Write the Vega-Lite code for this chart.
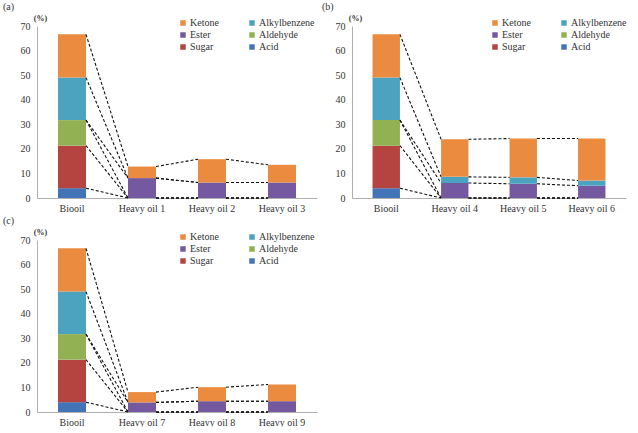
{
  "$schema": "https://vega.github.io/schema/vega-lite/v6.json",
  "padding": {"left": 3, "top": 2, "right": 0, "bottom": 0},
  "background": "white",
  "config": {
    "font": "Liberation Serif",
    "view": {"stroke": null},
    "axis": {"labelFont": "Liberation Serif", "labelFontSize": 10, "labelColor": "#333", "domainColor": "#b0b0b0", "grid": false, "ticks": false, "labelOverlap": false},
    "legend": {"labelFont": "Liberation Serif", "labelFontSize": 10, "labelColor": "#333"},
    "title": {"font": "Liberation Serif", "fontSize": 10, "fontWeight": "normal", "anchor": "start", "frame": "bounds", "color": "#333"}
  },
  "resolve": {"scale": {"color": "independent"}},
  "spacing": {"column": 5, "row": 3},
  "columns": 2,
  "concat": [
    {
      "width": 280, "height": 172,
      "title": {"text": "(a)", "dx": -17, "offset": 2},
      "data": {"values": [
        {"sample": "Biooil", "component": "Acid", "value": 4},
        {"sample": "Biooil", "component": "Sugar", "value": 17.3},
        {"sample": "Biooil", "component": "Aldehyde", "value": 10.4},
        {"sample": "Biooil", "component": "Ester", "value": 0},
        {"sample": "Biooil", "component": "Alkylbenzene", "value": 17.3},
        {"sample": "Biooil", "component": "Ketone", "value": 17.6},
        {"sample": "Heavy oil 1", "component": "Acid", "value": 0},
        {"sample": "Heavy oil 1", "component": "Sugar", "value": 0},
        {"sample": "Heavy oil 1", "component": "Aldehyde", "value": 0},
        {"sample": "Heavy oil 1", "component": "Ester", "value": 8.1},
        {"sample": "Heavy oil 1", "component": "Alkylbenzene", "value": 0},
        {"sample": "Heavy oil 1", "component": "Ketone", "value": 4.7},
        {"sample": "Heavy oil 2", "component": "Acid", "value": 0},
        {"sample": "Heavy oil 2", "component": "Sugar", "value": 0},
        {"sample": "Heavy oil 2", "component": "Aldehyde", "value": 0},
        {"sample": "Heavy oil 2", "component": "Ester", "value": 6.3},
        {"sample": "Heavy oil 2", "component": "Alkylbenzene", "value": 0},
        {"sample": "Heavy oil 2", "component": "Ketone", "value": 9.5},
        {"sample": "Heavy oil 3", "component": "Acid", "value": 0},
        {"sample": "Heavy oil 3", "component": "Sugar", "value": 0},
        {"sample": "Heavy oil 3", "component": "Aldehyde", "value": 0},
        {"sample": "Heavy oil 3", "component": "Ester", "value": 6.3},
        {"sample": "Heavy oil 3", "component": "Alkylbenzene", "value": 0},
        {"sample": "Heavy oil 3", "component": "Ketone", "value": 7.2}
      ]},
      "transform": [
        {"calculate": "indexof(['Acid','Sugar','Aldehyde','Ester','Alkylbenzene','Ketone'], datum.component)", "as": "rank"},
        {"stack": "value", "groupby": ["sample"], "sort": [{"field": "rank", "order": "ascending"}], "as": ["lo", "hi"]},
        {"window": [{"op": "lead", "field": "hi", "as": "nextHi"}, {"op": "lead", "field": "sample", "as": "nextSample"}], "groupby": ["component"], "sort": [{"field": "sample", "order": "ascending"}], "frame": [null, null]}
      ],
      "layer": [
        {
          "mark": {"type": "bar"},
          "encoding": {
            "x": {"field": "sample", "type": "nominal", "scale": {"paddingInner": 0.6, "paddingOuter": 0.3}, "axis": {"title": null, "labelAngle": 0, "labelPadding": 5}},
            "y": {"field": "lo", "type": "quantitative", "scale": {"domain": [0, 70]}, "axis": {"title": "(%)", "titleAngle": 0, "titleX": 3, "titleY": -4, "titleAlign": "center", "titleBaseline": "bottom", "titleFontSize": 8, "titleFontWeight": "bold", "titleColor": "#333", "values": [0, 10, 20, 30, 40, 50, 60, 70], "labelPadding": 7}},
            "y2": {"field": "hi"},
            "color": {"field": "component", "type": "nominal",
              "scale": {"domain": ["Ketone", "Ester", "Sugar", "Alkylbenzene", "Aldehyde", "Acid"], "range": ["#EA8B3F", "#7459A0", "#B5433F", "#4BA3C0", "#92B152", "#4374B8"]},
              "legend": {"title": null, "orient": "none", "legendX": 141, "legendY": -8, "columns": 2, "columnPadding": 28, "rowPadding": 2, "symbolType": "square", "symbolSize": 30, "labelOffset": 2}}
          }
        },
        {
          "transform": [{"filter": "datum.nextSample != null"}],
          "mark": {"type": "rule", "color": "#111", "strokeDash": [3, 2], "strokeWidth": 1.1},
          "encoding": {
            "x": {"field": "sample", "type": "nominal", "bandPosition": 1},
            "x2": {"field": "nextSample", "bandPosition": 0},
            "y": {"field": "hi", "type": "quantitative", "axis": {"title": "(%)", "titleAngle": 0, "titleX": 3, "titleY": -4, "titleAlign": "center", "titleBaseline": "bottom", "titleFontSize": 8, "titleFontWeight": "bold", "titleColor": "#333", "values": [0, 10, 20, 30, 40, 50, 60, 70], "labelPadding": 7}},
            "y2": {"field": "nextHi"}
          }
        }
      ]
    },
    {
      "width": 274, "height": 172,
      "title": {"text": "(b)", "dx": -13, "offset": 2},
      "data": {"values": [
        {"sample": "Biooil", "component": "Acid", "value": 4},
        {"sample": "Biooil", "component": "Sugar", "value": 17.3},
        {"sample": "Biooil", "component": "Aldehyde", "value": 10.4},
        {"sample": "Biooil", "component": "Ester", "value": 0},
        {"sample": "Biooil", "component": "Alkylbenzene", "value": 17.3},
        {"sample": "Biooil", "component": "Ketone", "value": 17.6},
        {"sample": "Heavy oil 4", "component": "Acid", "value": 0},
        {"sample": "Heavy oil 4", "component": "Sugar", "value": 0},
        {"sample": "Heavy oil 4", "component": "Aldehyde", "value": 0},
        {"sample": "Heavy oil 4", "component": "Ester", "value": 6.1},
        {"sample": "Heavy oil 4", "component": "Alkylbenzene", "value": 2.5},
        {"sample": "Heavy oil 4", "component": "Ketone", "value": 15.3},
        {"sample": "Heavy oil 5", "component": "Acid", "value": 0},
        {"sample": "Heavy oil 5", "component": "Sugar", "value": 0},
        {"sample": "Heavy oil 5", "component": "Aldehyde", "value": 0},
        {"sample": "Heavy oil 5", "component": "Ester", "value": 5.8},
        {"sample": "Heavy oil 5", "component": "Alkylbenzene", "value": 2.6},
        {"sample": "Heavy oil 5", "component": "Ketone", "value": 15.8},
        {"sample": "Heavy oil 6", "component": "Acid", "value": 0},
        {"sample": "Heavy oil 6", "component": "Sugar", "value": 0},
        {"sample": "Heavy oil 6", "component": "Aldehyde", "value": 0},
        {"sample": "Heavy oil 6", "component": "Ester", "value": 5.0},
        {"sample": "Heavy oil 6", "component": "Alkylbenzene", "value": 2.1},
        {"sample": "Heavy oil 6", "component": "Ketone", "value": 17.1}
      ]},
      "transform": [
        {"calculate": "indexof(['Acid','Sugar','Aldehyde','Ester','Alkylbenzene','Ketone'], datum.component)", "as": "rank"},
        {"stack": "value", "groupby": ["sample"], "sort": [{"field": "rank", "order": "ascending"}], "as": ["lo", "hi"]},
        {"window": [{"op": "lead", "field": "hi", "as": "nextHi"}, {"op": "lead", "field": "sample", "as": "nextSample"}], "groupby": ["component"], "sort": [{"field": "sample", "order": "ascending"}], "frame": [null, null]}
      ],
      "layer": [
        {
          "mark": {"type": "bar"},
          "encoding": {
            "x": {"field": "sample", "type": "nominal", "scale": {"paddingInner": 0.6, "paddingOuter": 0.3}, "axis": {"title": null, "labelAngle": 0, "labelPadding": 5}},
            "y": {"field": "lo", "type": "quantitative", "scale": {"domain": [0, 70]}, "axis": {"title": "(%)", "titleAngle": 0, "titleX": 3, "titleY": -4, "titleAlign": "center", "titleBaseline": "bottom", "titleFontSize": 8, "titleFontWeight": "bold", "titleColor": "#333", "values": [0, 10, 20, 30, 40, 50, 60, 70], "labelPadding": 7}},
            "y2": {"field": "hi"},
            "color": {"field": "component", "type": "nominal",
              "scale": {"domain": ["Ketone", "Ester", "Sugar", "Alkylbenzene", "Aldehyde", "Acid"], "range": ["#EA8B3F", "#7459A0", "#B5433F", "#4BA3C0", "#92B152", "#4374B8"]},
              "legend": {"title": null, "orient": "none", "legendX": 138, "legendY": -8, "columns": 2, "columnPadding": 28, "rowPadding": 2, "symbolType": "square", "symbolSize": 30, "labelOffset": 2}}
          }
        },
        {
          "transform": [{"filter": "datum.nextSample != null"}],
          "mark": {"type": "rule", "color": "#111", "strokeDash": [3, 2], "strokeWidth": 1.1},
          "encoding": {
            "x": {"field": "sample", "type": "nominal", "bandPosition": 1},
            "x2": {"field": "nextSample", "bandPosition": 0},
            "y": {"field": "hi", "type": "quantitative", "axis": {"title": "(%)", "titleAngle": 0, "titleX": 3, "titleY": -4, "titleAlign": "center", "titleBaseline": "bottom", "titleFontSize": 8, "titleFontWeight": "bold", "titleColor": "#333", "values": [0, 10, 20, 30, 40, 50, 60, 70], "labelPadding": 7}},
            "y2": {"field": "nextHi"}
          }
        }
      ]
    },
    {
      "width": 280, "height": 172,
      "title": {"text": "(c)", "dx": -17, "offset": 2},
      "data": {"values": [
        {"sample": "Biooil", "component": "Acid", "value": 4},
        {"sample": "Biooil", "component": "Sugar", "value": 17.3},
        {"sample": "Biooil", "component": "Aldehyde", "value": 10.4},
        {"sample": "Biooil", "component": "Ester", "value": 0},
        {"sample": "Biooil", "component": "Alkylbenzene", "value": 17.3},
        {"sample": "Biooil", "component": "Ketone", "value": 17.6},
        {"sample": "Heavy oil 7", "component": "Acid", "value": 0},
        {"sample": "Heavy oil 7", "component": "Sugar", "value": 0},
        {"sample": "Heavy oil 7", "component": "Aldehyde", "value": 0},
        {"sample": "Heavy oil 7", "component": "Ester", "value": 3.9},
        {"sample": "Heavy oil 7", "component": "Alkylbenzene", "value": 0},
        {"sample": "Heavy oil 7", "component": "Ketone", "value": 4.2},
        {"sample": "Heavy oil 8", "component": "Acid", "value": 0},
        {"sample": "Heavy oil 8", "component": "Sugar", "value": 0},
        {"sample": "Heavy oil 8", "component": "Aldehyde", "value": 0},
        {"sample": "Heavy oil 8", "component": "Ester", "value": 4.4},
        {"sample": "Heavy oil 8", "component": "Alkylbenzene", "value": 0},
        {"sample": "Heavy oil 8", "component": "Ketone", "value": 5.7},
        {"sample": "Heavy oil 9", "component": "Acid", "value": 0},
        {"sample": "Heavy oil 9", "component": "Sugar", "value": 0},
        {"sample": "Heavy oil 9", "component": "Aldehyde", "value": 0},
        {"sample": "Heavy oil 9", "component": "Ester", "value": 4.4},
        {"sample": "Heavy oil 9", "component": "Alkylbenzene", "value": 0},
        {"sample": "Heavy oil 9", "component": "Ketone", "value": 6.8}
      ]},
      "transform": [
        {"calculate": "indexof(['Acid','Sugar','Aldehyde','Ester','Alkylbenzene','Ketone'], datum.component)", "as": "rank"},
        {"stack": "value", "groupby": ["sample"], "sort": [{"field": "rank", "order": "ascending"}], "as": ["lo", "hi"]},
        {"window": [{"op": "lead", "field": "hi", "as": "nextHi"}, {"op": "lead", "field": "sample", "as": "nextSample"}], "groupby": ["component"], "sort": [{"field": "sample", "order": "ascending"}], "frame": [null, null]}
      ],
      "layer": [
        {
          "mark": {"type": "bar"},
          "encoding": {
            "x": {"field": "sample", "type": "nominal", "scale": {"paddingInner": 0.6, "paddingOuter": 0.3}, "axis": {"title": null, "labelAngle": 0, "labelPadding": 5}},
            "y": {"field": "lo", "type": "quantitative", "scale": {"domain": [0, 70]}, "axis": {"title": "(%)", "titleAngle": 0, "titleX": 3, "titleY": -4, "titleAlign": "center", "titleBaseline": "bottom", "titleFontSize": 8, "titleFontWeight": "bold", "titleColor": "#333", "values": [0, 10, 20, 30, 40, 50, 60, 70], "labelPadding": 7}},
            "y2": {"field": "hi"},
            "color": {"field": "component", "type": "nominal",
              "scale": {"domain": ["Ketone", "Ester", "Sugar", "Alkylbenzene", "Aldehyde", "Acid"], "range": ["#EA8B3F", "#7459A0", "#B5433F", "#4BA3C0", "#92B152", "#4374B8"]},
              "legend": {"title": null, "orient": "none", "legendX": 141, "legendY": -8, "columns": 2, "columnPadding": 28, "rowPadding": 2, "symbolType": "square", "symbolSize": 30, "labelOffset": 2}}
          }
        },
        {
          "transform": [{"filter": "datum.nextSample != null"}],
          "mark": {"type": "rule", "color": "#111", "strokeDash": [3, 2], "strokeWidth": 1.1},
          "encoding": {
            "x": {"field": "sample", "type": "nominal", "bandPosition": 1},
            "x2": {"field": "nextSample", "bandPosition": 0},
            "y": {"field": "hi", "type": "quantitative", "axis": {"title": "(%)", "titleAngle": 0, "titleX": 3, "titleY": -4, "titleAlign": "center", "titleBaseline": "bottom", "titleFontSize": 8, "titleFontWeight": "bold", "titleColor": "#333", "values": [0, 10, 20, 30, 40, 50, 60, 70], "labelPadding": 7}},
            "y2": {"field": "nextHi"}
          }
        }
      ]
    }
  ]
}
